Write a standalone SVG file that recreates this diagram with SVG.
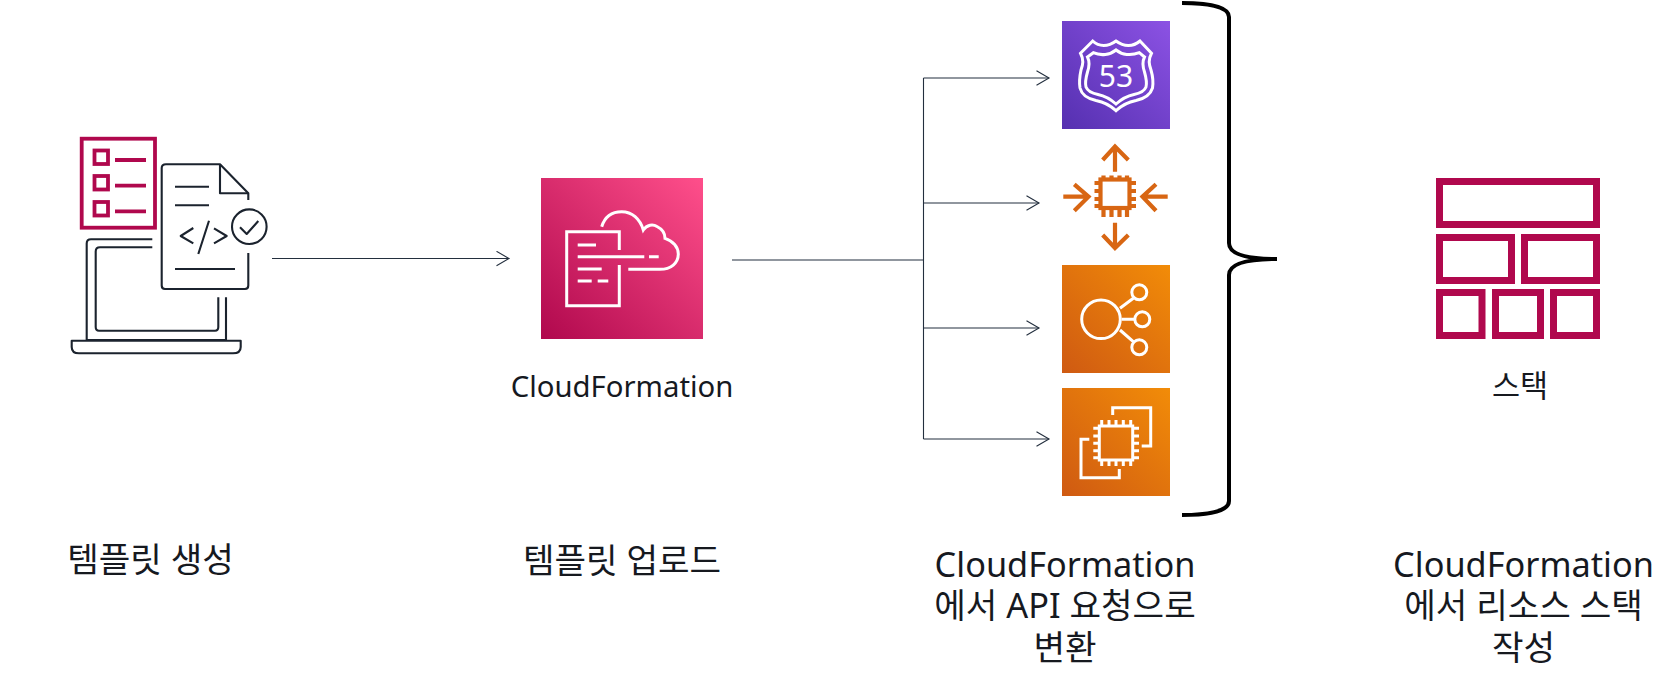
<svg xmlns="http://www.w3.org/2000/svg" width="1680" height="694" viewBox="0 0 1680 694">
<style>
text{font-family:"Noto Sans","Noto Sans CJK KR",sans-serif;fill:#16191f;text-anchor:middle}
.t{font-size:34.300px}
.s{font-size:29.300px}
.c{fill:none;stroke:#232f3e;stroke-width:1.1}
.k{fill:none;stroke:#1b232e;stroke-width:2.100;stroke-linejoin:round}
.m{fill:none;stroke:#b0084d;stroke-width:3.800}
.w{fill:none;stroke:#fff;stroke-width:3}
.o{fill:none;stroke:#d86613;stroke-width:4.200}
.st{fill:none;stroke:#b0084d;stroke-width:7}
</style>
<defs>
<linearGradient id="pink" x1="0" y1="1" x2="1" y2="0"><stop offset="0" stop-color="#b0084d"/><stop offset="1" stop-color="#ff4f8b"/></linearGradient>
<linearGradient id="purple" x1="0" y1="1" x2="1" y2="0"><stop offset="0" stop-color="#5530b0"/><stop offset="1" stop-color="#8c52e4"/></linearGradient>
<linearGradient id="orange" x1="0" y1="1" x2="1" y2="0"><stop offset="0" stop-color="#cf5a12"/><stop offset="1" stop-color="#f28c08"/></linearGradient>
<marker id="arr" markerUnits="userSpaceOnUse" markerWidth="16" markerHeight="18" refX="14" refY="8" orient="auto"><path d="M1.500 0.800L14 8L1.500 15.200" fill="none" stroke="#232f3e" stroke-width="1.1"/></marker>
</defs>
<g id="connectors">
<path class="c" d="M272 258.500H509" marker-end="url(#arr)"/>
<path class="c" d="M732 260H923.500"/>
<path class="c" d="M923.500 78V439"/>
<path class="c" d="M923.500 78H1049" marker-end="url(#arr)"/>
<path class="c" d="M923.500 203H1039" marker-end="url(#arr)"/>
<path class="c" d="M923.500 328H1039" marker-end="url(#arr)"/>
<path class="c" d="M923.500 439H1049" marker-end="url(#arr)"/>
</g>
<g id="template-node">
<rect class="m" x="81.700" y="138.700" width="73.300" height="89" />
<rect class="m" x="94.500" y="150.500" width="13.500" height="13.500"/>
<rect class="m" x="94.500" y="176" width="13.500" height="13.500"/>
<rect class="m" x="94.500" y="202" width="13.500" height="13.500"/>
<path class="m" d="M115 160H146M115 185.700H146M115 211.300H146"/>
<path class="k" d="M248.300 200V193.300L220 164.300H166Q161.700 164.300 161.700 168V285.500Q161.700 289 165 289H245Q248.300 289 248.300 285.500V253"/>
<path class="k" d="M220 164.300V193.300H248.300"/>
<path class="k" d="M175 186.700H209M175 205.300H209M175 269H235"/>
<path class="k" d="M193.300 228L180.700 236L193.300 243.300M209 220.700L198.300 254M214 228.300L226.700 236L214 243.300"/>
<circle class="k" cx="249.300" cy="226.700" r="17.300"/>
<path class="k" d="M240 227.300L246.700 234L258.300 221"/>
<path class="k" d="M152.300 239.300H91Q86.700 239.300 86.700 243.500V340H226V297.300"/>
<path class="k" d="M152.300 247.300H100Q95.700 247.300 95.700 251.500V327Q95.700 330.700 99 330.700H215Q218.300 330.700 218.300 327V297.300"/>
<path class="k" d="M71.700 340.700H240.700V347Q240.700 353.300 233 353.300H79Q71.700 353.300 71.700 347Z"/>
<text class="t" x="150.500" y="572">템플릿 생성</text>
</g>
<g id="cloudformation-node">
<rect x="541" y="178" width="162" height="161" fill="url(#pink)"/>
<path class="w" d="M619.300 250V231.700H566.700V305.700H619.300V265"/>
<path class="w" d="M577.700 245H596M577.700 256.700H644.300M649 256.700H658.700M577.700 269H601.700M577.700 281H591.700M597.700 281H608.300"/>
<path class="w" d="M601.700 226.700C605 216 613 211.700 621.700 211.700C632 211.700 640 219 643.300 230C647 224.500 653 224 657 226.500C662 229 665 233 665 238.300C673 241 678.300 247 678.300 254C678.300 263 671 269.300 660 269.300H628.300"/>
<text class="s" x="622" y="397">CloudFormation</text>
<text class="t" x="622" y="573">템플릿 업로드</text>
</g>
<g id="route53-node">
<rect x="1062" y="21" width="108" height="108" fill="url(#purple)"/>
<path class="w" d="M1092.700 41C1099 47 1108 47 1116 41C1124 47 1133 47 1140 41L1151.500 53.300C1148 60 1149 64 1151 70C1153 77 1153.500 82 1152.500 88C1150 96 1143 99 1136 100.500C1128 102 1121 106 1116 110.700C1111 106 1104 102 1096 100.500C1089 99 1082 96 1080 88C1079 82 1079.500 77 1081 70C1083 64 1084 60 1080.500 53.300Z"/>
<path class="w" d="M1093.300 52.700C1101 56 1110 55 1116 50C1122 55 1131 56 1139.300 52.700L1144.500 57C1142 62 1142.500 66 1144.500 72C1146.500 79 1147 83 1146 87C1144 92 1139 93.500 1134 94.500C1127 96 1121 99.500 1116 104C1111 99.500 1105 96 1098 94.500C1093 93.500 1088 92 1086 87C1085 83 1085.500 79 1087.500 72C1089.500 66 1090 62 1087.500 57Z"/>
<text x="1116" y="87" font-size="30" style="fill:#fff">53</text>
</g>
<g id="autoscaling-node">
<rect class="o" x="1100.500" y="179.500" width="29" height="28.500" />
<path class="o" d="M1103.500 175.500V181M1111.500 175.500V181M1119.500 175.500V181M1127 175.500V181M1103.500 206V217M1111.500 206V217M1119.500 206V217M1127 206V217M1094.500 183H1101M1094.500 191H1101M1094.500 199H1101M1094.500 206H1101M1129 183H1136M1129 191H1136M1129 199H1136M1129 206H1136"/>
<path class="o" d="M1115 171.700V148M1102.700 160L1115 146.500L1128.300 160M1115 222.700V247M1102.700 235L1115 248L1128.300 235M1063.300 196.700H1087M1074.300 184.300L1088.500 196.700L1074.300 210.700M1167.700 196.700H1143M1156 184.300L1142.500 196.700L1156 210.700"/>
</g>
<g id="elb-node">
<rect x="1062" y="265" width="108" height="108" fill="url(#orange)"/>
<circle class="w" cx="1101" cy="319.300" r="19.300"/>
<circle class="w" cx="1139.300" cy="292.300" r="7.500"/>
<circle class="w" cx="1142.300" cy="319.300" r="7.500"/>
<circle class="w" cx="1139.300" cy="347.300" r="7.500"/>
<path class="w" d="M1120 308.300L1133.300 298.300M1121.700 319.300H1134.300M1120 330L1133.300 341.700"/>
</g>
<g id="ec2-node">
<rect x="1062" y="388" width="108" height="108" fill="url(#orange)"/>
<rect class="w" x="1099.300" y="426" width="33.400" height="34"/>
<path class="w" d="M1101.700 420V426M1109 420V426M1116 420V426M1123.300 420V426M1130.700 420V426M1101.700 460V466M1109 460V466M1116 460V466M1123.300 460V466M1130.700 460V466M1093.300 428.300H1099.300M1093.300 436H1099.300M1093.300 443.300H1099.300M1093.300 450.700H1099.300M1093.300 457.700H1099.300M1132.700 428.300H1139M1132.700 436H1139M1132.700 443.300H1139M1132.700 450.700H1139M1132.700 457.700H1139"/>
<path class="w" d="M1112.700 415V407.700H1150.700V446H1141.700M1089.300 439.300H1081V477.700H1119.300V469"/>
</g>
<g id="brace"><path d="M1182 3C1205 3 1229 6 1229 17V243C1229 254 1245 259 1277 259C1245 259 1229 264 1229 275V501C1229 512 1205 515 1182 515" fill="none" stroke="#000" stroke-width="4"/></g>
<g id="api-label">
<text class="t" x="1065" y="577">CloudFormation</text>
<text class="t" x="1065" y="618">에서 API 요청으로</text>
<text class="t" x="1065" y="660">변환</text>
</g>
<g id="stack-node">
<rect class="st" x="1439.500" y="181.500" width="157" height="43"/>
<rect class="st" x="1439.500" y="237.500" width="72" height="43"/>
<rect class="st" x="1524.500" y="237.500" width="72" height="43"/>
<rect class="st" x="1439.500" y="292.500" width="42.500" height="43"/>
<rect class="st" x="1495.500" y="292.500" width="45" height="43"/>
<rect class="st" x="1553.500" y="292.500" width="43" height="43"/>
<text x="1520" y="397" font-size="30.500">스택</text>
</g>
<g id="stack-label">
<text class="t" x="1523.500" y="577">CloudFormation</text>
<text class="t" x="1523.500" y="618">에서 리소스 스택</text>
<text class="t" x="1523.500" y="660">작성</text>
</g>
</svg>
